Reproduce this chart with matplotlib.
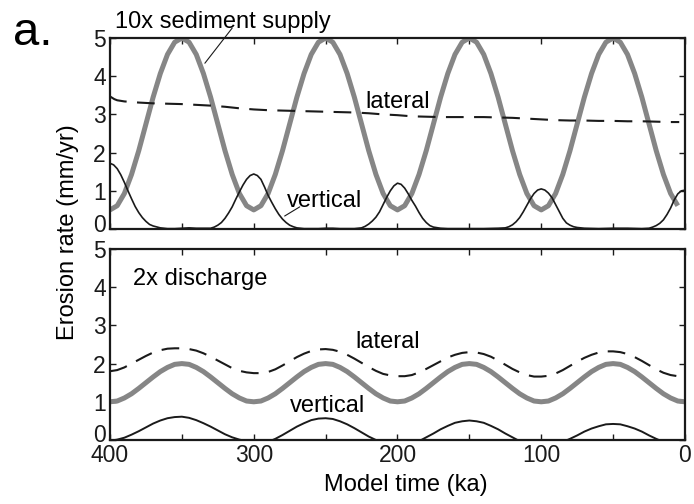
import matplotlib
matplotlib.use("Agg")
import matplotlib.pyplot as plt
from matplotlib.transforms import ScaledTranslation

plt.rcParams['font.family'] = ['Liberation Sans', 'DejaVu Sans']

# --- Modellzeit (ka) ---
t_5ka = [400, 395, 390, 385, 380, 375, 370, 365, 360, 355,
         350, 345, 340, 335, 330, 325, 320, 315, 310, 305,
         300, 295, 290, 285, 280, 275, 270, 265, 260, 255,
         250, 245, 240, 235, 230, 225, 220, 215, 210, 205,
         200, 195, 190, 185, 180, 175, 170, 165, 160, 155,
         150, 145, 140, 135, 130, 125, 120, 115, 110, 105,
         100, 95, 90, 85, 80, 75, 70, 65, 60, 55,
         50, 45, 40, 35, 30, 25, 20, 15, 10, 5, 0]

# --- oben: 10x sediment supply ---
zufuhr_oben = [0.50, 0.61, 0.93, 1.43, 2.05, 2.75, 3.45, 4.07, 4.57, 4.89,
               5.00, 4.89, 4.57, 4.07, 3.45, 2.75, 2.05, 1.43, 0.93, 0.61,
               0.50, 0.61, 0.93, 1.43, 2.05, 2.75, 3.45, 4.07, 4.57, 4.89,
               5.00, 4.89, 4.57, 4.07, 3.45, 2.75, 2.05, 1.43, 0.93, 0.61,
               0.50, 0.61, 0.93, 1.43, 2.05, 2.75, 3.45, 4.07, 4.57, 4.89,
               5.00, 4.89, 4.57, 4.07, 3.45, 2.75, 2.05, 1.43, 0.93, 0.61,
               0.50, 0.61, 0.93, 1.43, 2.05, 2.75, 3.45, 4.07, 4.57, 4.89,
               5.00, 4.89, 4.57, 4.07, 3.45, 2.75, 2.05, 1.43, 0.93, 0.61]

t_lat_oben = [400, 397, 395, 390, 380, 370, 360, 350, 340, 330,
              320, 310, 300, 290, 280, 270, 260, 250, 240, 230,
              220, 210, 200, 190, 180, 170, 160, 150, 140, 130,
              120, 110, 100, 90, 80, 70, 60, 50, 40, 30,
              20, 10, 4]
lateral_oben = [3.47, 3.40, 3.37, 3.34, 3.31, 3.29, 3.28, 3.27, 3.25, 3.23,
                3.20, 3.16, 3.13, 3.11, 3.10, 3.09, 3.08, 3.07, 3.06, 3.05,
                3.03, 3.00, 2.98, 2.95, 2.94, 2.93, 2.93, 2.93, 2.93, 2.92,
                2.91, 2.89, 2.87, 2.85, 2.84, 2.84, 2.83, 2.83, 2.82, 2.82,
                2.81, 2.80, 2.80]

t_vert_oben = [400, 397.5, 395, 392.5, 390, 387.5, 385, 382.5, 380, 377.5,
               375, 372.5, 370, 365, 360, 355, 350, 345, 340, 335,
               330, 327.5, 325, 322.5, 320, 317.5, 315, 312.5, 310, 307.5,
               305, 302.5, 300, 297.5, 295, 292.5, 290, 287.5, 285, 282.5,
               280, 277.5, 275, 272.5, 270, 265, 260, 255, 250, 245,
               240, 235, 230, 225, 222.5, 220, 217.5, 215, 212.5, 210,
               207.5, 205, 202.5, 200, 197.5, 195, 192.5, 190, 187.5, 185,
               182.5, 180, 177.5, 175, 170, 165, 160, 150, 140, 130,
               125, 122.5, 120, 117.5, 115, 112.5, 110, 107.5, 105, 102.5,
               100, 97.5, 95, 92.5, 90, 87.5, 85, 82.5, 80, 77.5,
               75, 70, 60, 50, 40, 30, 25, 22.5, 20, 17.5,
               15, 12.5, 10, 7.5, 5, 2.5, 1]
vertikal_oben = [1.72, 1.68, 1.58, 1.42, 1.22, 1.00, 0.79, 0.59, 0.43, 0.30,
                 0.20, 0.12, 0.08, 0.03, 0.01, 0.01, 0.02, 0.03, 0.02, 0.02,
                 0.02, 0.05, 0.10, 0.17, 0.28, 0.42, 0.58, 0.78, 0.97, 1.15,
                 1.30, 1.40, 1.44, 1.40, 1.30, 1.10, 0.88, 0.70, 0.53, 0.38,
                 0.26, 0.17, 0.10, 0.06, 0.03, 0.01, 0.01, 0.01, 0.02, 0.02,
                 0.01, 0.01, 0.01, 0.03, 0.07, 0.13, 0.21, 0.31, 0.45, 0.64,
                 0.83, 1.00, 1.13, 1.20, 1.17, 1.07, 0.92, 0.75, 0.60, 0.43,
                 0.28, 0.17, 0.09, 0.05, 0.02, 0.01, 0.01, 0.01, 0.01, 0.02,
                 0.03, 0.06, 0.11, 0.19, 0.30, 0.45, 0.62, 0.79, 0.93, 1.02,
                 1.05, 1.02, 0.94, 0.82, 0.64, 0.46, 0.28, 0.16, 0.10, 0.06,
                 0.04, 0.02, 0.01, 0.02, 0.02, 0.01, 0.02, 0.05, 0.09, 0.15,
                 0.24, 0.38, 0.55, 0.76, 0.92, 1.00, 1.01]

# --- unten: 2x discharge ---
abfluss_unten = [1.00, 1.02, 1.10, 1.21, 1.35, 1.50, 1.65, 1.79, 1.90, 1.98,
                 2.00, 1.98, 1.90, 1.79, 1.65, 1.50, 1.35, 1.21, 1.10, 1.02,
                 1.00, 1.02, 1.10, 1.21, 1.35, 1.50, 1.65, 1.79, 1.90, 1.98,
                 2.00, 1.98, 1.90, 1.79, 1.65, 1.50, 1.35, 1.21, 1.10, 1.02,
                 1.00, 1.02, 1.10, 1.21, 1.35, 1.50, 1.65, 1.79, 1.90, 1.98,
                 2.00, 1.98, 1.90, 1.79, 1.65, 1.50, 1.35, 1.21, 1.10, 1.02,
                 1.00, 1.02, 1.10, 1.21, 1.35, 1.50, 1.65, 1.79, 1.90, 1.98,
                 2.00, 1.98, 1.90, 1.79, 1.65, 1.50, 1.35, 1.21, 1.10, 1.02,
                 1.00]

lateral_unten = [1.80, 1.83, 1.90, 2.00, 2.10, 2.20, 2.29, 2.35, 2.39, 2.40,
                 2.40, 2.38, 2.34, 2.27, 2.18, 2.08, 1.98, 1.88, 1.81, 1.77,
                 1.75, 1.75, 1.78, 1.85, 1.95, 2.06, 2.17, 2.26, 2.33, 2.37,
                 2.38, 2.36, 2.31, 2.23, 2.13, 2.02, 1.91, 1.81, 1.73, 1.69,
                 1.67, 1.67, 1.70, 1.77, 1.86, 1.96, 2.06, 2.16, 2.23, 2.28,
                 2.30, 2.29, 2.25, 2.18, 2.08, 1.97, 1.86, 1.77, 1.70, 1.66,
                 1.66, 1.68, 1.74, 1.83, 1.94, 2.05, 2.15, 2.23, 2.29, 2.32,
                 2.32, 2.30, 2.25, 2.17, 2.07, 1.96, 1.85, 1.76, 1.70, 1.67,
                 1.67]

vertikal_unten = [-0.02, 0.01, 0.06, 0.14, 0.23, 0.33, 0.43, 0.51, 0.57, 0.60,
                  0.61, 0.58, 0.52, 0.44, 0.35, 0.25, 0.15, 0.07, 0.01, -0.03,
                  -0.07, -0.08, -0.05, 0.03, 0.13, 0.24, 0.35, 0.44, 0.52, 0.56,
                  0.57, 0.55, 0.49, 0.41, 0.31, 0.20, 0.09, 0.00, -0.08, -0.12,
                  -0.14, -0.15, -0.10, -0.03, 0.07, 0.17, 0.28, 0.37, 0.45, 0.49,
                  0.51, 0.49, 0.45, 0.37, 0.28, 0.17, 0.07, -0.03, -0.10, -0.15,
                  -0.17, -0.16, -0.12, -0.05, 0.03, 0.12, 0.22, 0.30, 0.36, 0.41,
                  0.42, 0.41, 0.36, 0.30, 0.22, 0.12, 0.03, -0.05, -0.12, -0.16,
                  -0.17]

x_ticks = [400, 350, 300, 250, 200, 150, 100, 50, 0]
x_ticklabels = ['400', '', '300', '', '200', '', '100', '', '0']
y_ticks = [0, 1, 2, 3, 4, 5]

grau = '#868686'
schwarz = '#1a1a1a'
fs = 17

fig = plt.figure(figsize=(6.94, 5.04), dpi=100)
ax1 = fig.add_axes([0.1585, 0.5456, 0.8285, 0.379])
ax2 = fig.add_axes([0.1585, 0.127, 0.8285, 0.379])

for ax in (ax1, ax2):
    ax.set_xlim(400, 0)
    ax.set_ylim(0, 5)
    ax.set_xticks(x_ticks)
    ax.set_yticks(y_ticks)
    ax.tick_params(direction='in', length=4, width=1, top=True, right=True,
                   labelsize=16.5, pad=3, colors=schwarz)
    for s in ax.spines.values():
        s.set_linewidth(1.6)
        s.set_color(schwarz)

ax1.set_xticklabels([])
ax2.set_xticklabels(x_ticklabels)
ax2.tick_params(axis='x', pad=3)

# die "0"-Beschriftungen etwas anheben, damit sie nicht mit "5" bzw. "400" kollidieren
for ax, dy in ((ax1, 6), (ax2, 7)):
    lab = ax.yaxis.get_major_ticks()[0].label1
    lab.set_transform(lab.get_transform() + ScaledTranslation(0, dy / 100, fig.dpi_scale_trans))

# oberes Panel
ax1.plot(t_5ka[:-1], zufuhr_oben, color=grau, lw=3.6, solid_capstyle='butt')
ax1.plot(t_lat_oben, lateral_oben, color=schwarz, lw=1.5, dashes=(8.5, 5))
ax1.plot(t_vert_oben, vertikal_oben, color=schwarz, lw=1.2)

ax1.text(396.5, 5.26, '10x sediment supply', fontsize=fs, ha='left', va='baseline')
ax1.annotate('', xy=(334, 4.34), xytext=(315, 5.26), annotation_clip=False,
             arrowprops=dict(arrowstyle='-', lw=0.8, color=schwarz, shrinkA=0, shrinkB=0))
ax1.text(222.6, 3.16, 'lateral', fontsize=fs, ha='left', va='baseline')
ax1.text(276.9, 0.58, 'vertical', fontsize=fs, ha='left', va='baseline')
ax1.annotate('', xy=(278.5, 0.34), xytext=(268, 0.58),
             arrowprops=dict(arrowstyle='-', lw=0.8, color=schwarz, shrinkA=0, shrinkB=0))

# unteres Panel
ax2.plot(t_5ka, abfluss_unten, color=grau, lw=3.6)
ax2.plot(t_5ka, lateral_unten, color=schwarz, lw=1.5, dashes=(8.5, 5))
ax2.plot(t_5ka, vertikal_unten, color=schwarz, lw=1.4)

ax2.text(383.8, 4.06, '2x discharge', fontsize=fs, ha='left', va='baseline')
ax2.text(229.6, 2.40, 'lateral', fontsize=fs, ha='left', va='baseline')
ax2.text(274.8, 0.74, 'vertical', fontsize=fs, ha='left', va='baseline')

fig.text(406 / 694, 1 - 491 / 504, 'Model time (ka)', fontsize=fs,
         ha='center', va='baseline')
fig.text(68 / 694, 1 - 232 / 504, 'Erosion rate (mm/yr)', fontsize=fs,
         rotation=90, ha='center', va='center')
fig.text(13 / 694, 1 - 45 / 504, 'a.', fontsize=34, ha='left', va='baseline')

fig.savefig('out.png', dpi=100)
